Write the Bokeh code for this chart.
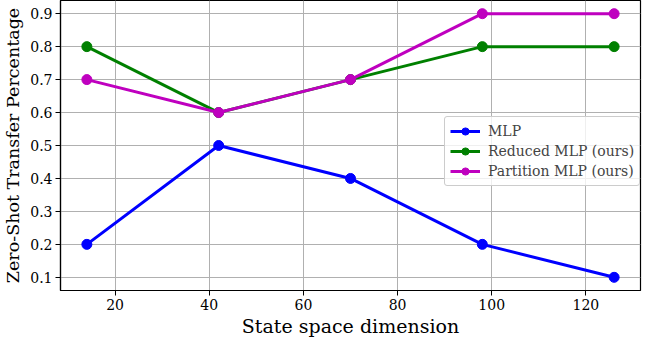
from bokeh.plotting import figure
from bokeh.models import FixedTicker, Range1d, Legend, LegendItem, PrintfTickFormatter
from bokeh.embed import file_html
from bokeh.resources import INLINE

dims = [14, 42, 70, 98, 126]
mlp = [0.2, 0.5, 0.4, 0.2, 0.1]
reduced = [0.8, 0.6, 0.7, 0.8, 0.8]
partition = [0.7, 0.6, 0.7, 0.9, 0.9]
x_ticks = [20, 40, 60, 80, 100, 120]
y_ticks = [0.1, 0.2, 0.3, 0.4, 0.5, 0.6, 0.7, 0.8, 0.9]

FONT = "DejaVu Serif"

p = figure(width=642, height=339, output_backend="svg", toolbar_location=None,
           x_range=Range1d(8.4, 131.6), y_range=Range1d(0.06, 0.94),
           min_border_left=52, min_border_right=2, min_border_top=0, min_border_bottom=40)

p.outline_line_color = "black"
p.outline_line_width = 1.2
for axes in (p.xaxis, p.yaxis):
    axes.axis_line_color = "black"
    axes.axis_line_width = 1.2
    axes.major_tick_in = 0
    axes.major_tick_out = 5
    axes.minor_tick_line_color = None
    axes.major_label_text_font = FONT
    axes.major_label_text_font_size = "14px"
    axes.major_label_text_color = "black"
    axes.major_label_standoff = 3
    axes.axis_label_text_font = FONT
    axes.axis_label_text_font_style = "normal"
    axes.axis_label_text_color = "black"
p.xaxis.axis_label_text_font_size = "19px"
p.yaxis.axis_label_text_font_size = "17.5px"

p.xaxis.ticker = FixedTicker(ticks=x_ticks)
p.yaxis.ticker = FixedTicker(ticks=y_ticks)
p.yaxis.formatter = PrintfTickFormatter(format="%.1f")
p.xaxis.axis_label = "State space dimension"
p.yaxis.axis_label = "Zero-Shot Transfer Percentage"
p.xaxis.axis_label_standoff = 2
p.yaxis.axis_label_standoff = 4

p.grid.grid_line_color = "#b0b0b0"
p.grid.grid_line_width = 1

series = [("MLP", mlp, "#0000ff"),
          ("Reduced MLP (ours)", reduced, "#008000"),
          ("Partition MLP (ours)", partition, "#bf00bf")]
items = []
for name, ys, c in series:
    l = p.line(dims, ys, line_color=c, line_width=3)
    s = p.scatter(dims, ys, size=10, fill_color=c, line_color=c)
    items.append(LegendItem(label=name, renderers=[l, s]))

legend = Legend(items=items, location=(384, 104))
legend.label_text_font = FONT
legend.label_text_font_size = "14px"
legend.label_height = 18
legend.glyph_height = 18
legend.glyph_width = 30
legend.label_standoff = 8
legend.spacing = 2
legend.padding = 5
legend.margin = 0
legend.border_line_color = "#cccccc"
legend.border_line_alpha = 1
legend.border_radius = 3
legend.background_fill_alpha = 0.8
p.add_layout(legend, "center")

open("out.html", "w").write(file_html(p, INLINE))
